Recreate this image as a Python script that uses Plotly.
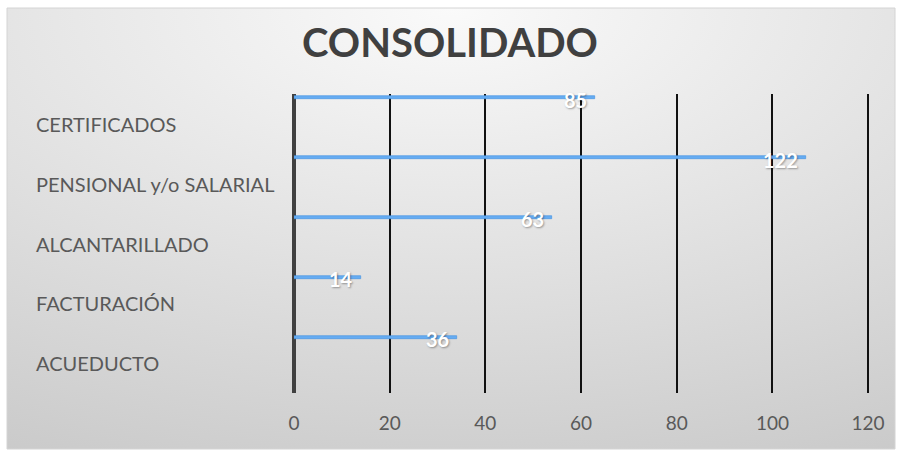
import base64
import plotly.graph_objects as go

# ---- data ----
categories = ["CERTIFICADOS", "PENSIONAL y/o SALARIAL", "ALCANTARILLADO", "FACTURACIÓN", "ACUEDUCTO"]
bar_values = [63, 107, 54, 14, 34]          # drawn bar lengths as seen on the axis
label_texts = ["85", "122", "63", "14", "36"]  # data labels shown on the bars
x_ticks = [0, 20, 40, 60, 80, 100, 120]
title_text = "CONSOLIDADO"

# ---- layout geometry ----
W, H = 902, 456
L, R, T, B = 294, 32, 94, 63
PW, PH = W - L - R, H - T - B
X_MAX = 120.4


def px_x(p):
    return (p - L) / PW


def px_y(p):
    return 1 - (p - T) / PH


FONT = "Lato"
TXT = "#595959"

idx = list(range(len(categories)))
bar_off = -0.435
bar_y = [i + bar_off for i in idx]

fig = go.Figure()
fig.add_trace(go.Bar(
    orientation="h", x=bar_values, y=bar_y, width=0.05,
    marker=dict(color="#66acf2", line=dict(color="#3f90e2", width=0.6)),
    hoverinfo="skip", showlegend=False,
))

# background gradient (chart area)
svg = (
    '<svg xmlns="http://www.w3.org/2000/svg" width="888" height="441" '
    'preserveAspectRatio="none" viewBox="0 0 888 441">'
    '<defs><radialGradient id="g" cx="0.5" cy="0" r="1.15">'
    '<stop offset="0" stop-color="#fafafa"/>'
    '<stop offset="1" stop-color="#c9c9c9"/></radialGradient></defs>'
    '<rect width="888" height="441" fill="url(#g)"/></svg>'
)
src = "data:image/svg+xml;base64," + base64.b64encode(svg.encode()).decode()

ann = []
for i, c in zip(idx, categories):
    ann.append(dict(text=c, x=px_x(34), xref="paper", xanchor="left",
                    y=i, yref="y", yanchor="middle", showarrow=False,
                    font=dict(family=FONT, size=20, color=TXT)))
for v, yy, t in zip(bar_values, bar_y, label_texts):
    ann.append(dict(text=t, x=v, xref="x", xanchor="right", xshift=-6,
                    y=yy, yref="y", yanchor="middle", yshift=-2, showarrow=False,
                    font=dict(family=FONT, size=20, color="white", weight="bold",
                              shadow="1px 1px 2px rgba(0,0,0,0.35)")))
ann.append(dict(text="<b>" + title_text + "</b>", x=px_x(450), xref="paper",
                xanchor="center", y=px_y(42), yref="paper", yanchor="middle",
                showarrow=False, font=dict(family=FONT, size=40, color="#404040")))

fig.update_layout(
    width=W, height=H, margin=dict(l=L, r=R, t=T, b=B),
    paper_bgcolor="white", plot_bgcolor="rgba(0,0,0,0)",
    bargap=0, barmode="overlay",
    images=[dict(source=src, xref="paper", yref="paper", x=px_x(7), y=px_y(8),
                 sizex=888 / PW, sizey=441 / PH, xanchor="left", yanchor="top",
                 sizing="stretch", layer="below")],
    shapes=[dict(type="rect", xref="paper", yref="paper", x0=px_x(7), x1=px_x(895),
                 y0=px_y(8), y1=px_y(449), line=dict(color="#d4d4d4", width=1),
                 layer="below")],
    annotations=ann,
    xaxis=dict(range=[0, X_MAX], tickvals=x_ticks, showgrid=True, gridcolor="#111111",
               gridwidth=2, zeroline=True, zerolinecolor="#404040", zerolinewidth=4,
               showline=False, ticks="", ticklabelstandoff=17,
               tickfont=dict(family=FONT, size=19, color=TXT), fixedrange=True),
    yaxis=dict(range=[len(categories) - 0.5, -0.5], showticklabels=False,
               showgrid=False, zeroline=False, showline=False, ticks="",
               fixedrange=True),
)
fig.write_html("out.html", config={"displayModeBar": False},
               post_script="document.body.style.margin='0';document.body.style.padding='0';")
